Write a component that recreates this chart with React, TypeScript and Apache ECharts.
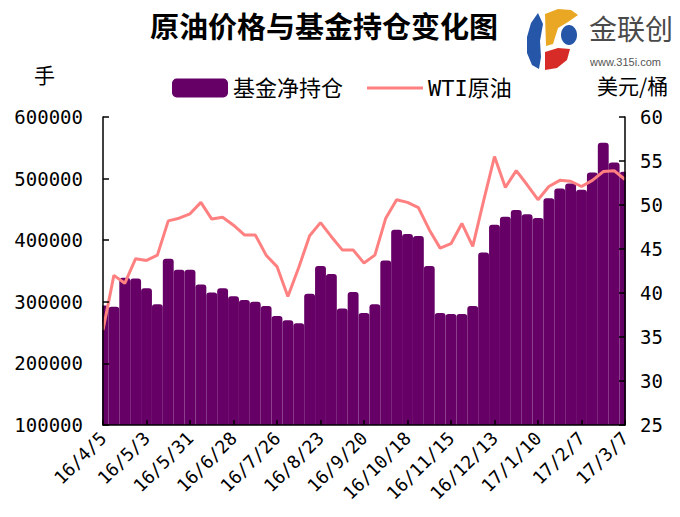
import React, { useEffect, useRef } from "react";
import * as echarts from "echarts";

const dates = [
  "16/4/5", "16/4/12", "16/4/19", "16/4/26", "16/5/3", "16/5/10", "16/5/17", "16/5/24",
  "16/5/31", "16/6/7", "16/6/14", "16/6/21", "16/6/28", "16/7/5", "16/7/12", "16/7/19",
  "16/7/26", "16/8/2", "16/8/9", "16/8/16", "16/8/23", "16/8/30", "16/9/6", "16/9/13",
  "16/9/20", "16/9/27", "16/10/4", "16/10/11", "16/10/18", "16/10/25", "16/11/1", "16/11/8",
  "16/11/15", "16/11/22", "16/11/29", "16/12/6", "16/12/13", "16/12/20", "16/12/27", "17/1/3",
  "17/1/10", "17/1/17", "17/1/24", "17/1/31", "17/2/7", "17/2/14", "17/2/21", "17/2/28",
  "17/3/7",
];

const netPositions = [
  294000, 292000, 339000, 338000, 322000, 296000, 370000, 352000,
  352000, 328000, 315000, 322000, 309000, 303000, 300000, 293000,
  277000, 270000, 265000, 313000, 358000, 345000, 289000, 316000,
  282000, 296000, 367000, 417000, 410000, 407000, 358000, 282000,
  280000, 280000, 293000, 380000, 425000, 438000, 449000, 442000,
  436000, 468000, 484000, 492000, 482000, 510000, 558000, 526000,
  511000,
];

const wtiPrice = [
  35.8, 42.0, 41.1, 43.9, 43.7, 44.3, 48.2, 48.5,
  49.0, 50.3, 48.4, 48.6, 47.7, 46.6, 46.6, 44.3,
  43.0, 39.6, 42.9, 46.5, 48.0, 46.4, 44.9, 44.9,
  43.4, 44.3, 48.5, 50.6, 50.3, 49.7, 47.2, 45.1,
  45.6, 47.9, 45.3, 50.5, 55.5, 52.0, 53.9, 52.3,
  50.6, 52.1, 52.8, 52.7, 52.1, 52.8, 53.8, 53.9,
  52.9,
];

const seriesNames = ["基金净持仓", "WTI原油"];
const titleText = "原油价格与基金持仓变化图";
const leftUnit = "手";
const rightUnit = "美元/桶";

const LATIN = "'DejaVu Sans Mono', 'Noto Sans CJK SC', monospace";
const CJK = "'Noto Sans CJK SC', sans-serif";

const GRID = { left: 103, right: 55, top: 117, bottom: 92 };
const W = 680;
const H = 517;

export default function App() {
  const ref = useRef<HTMLDivElement>(null);

  useEffect(() => {
    document.body.style.margin = "0";
    const chart = echarts.init(ref.current!, null, { renderer: "svg" });
    const plotRight = W - GRID.right;
    const plotBottom = H - GRID.bottom;
    chart.setOption({
      animation: false,
      backgroundColor: "#ffffff",
      title: {
        text: titleText,
        left: 150,
        top: 10,
        padding: 0,
        textStyle: { fontFamily: CJK, fontSize: 29, fontWeight: "bold", color: "#000" },
      },
      legend: {
        left: 172,
        top: 77,
        padding: 0,
        itemWidth: 56,
        itemHeight: 19,
        itemGap: 24,
        textStyle: { fontFamily: LATIN, fontSize: 22, color: "#000" },
        data: [
          { name: seriesNames[0], icon: "roundRect" },
          { name: seriesNames[1], icon: "path://M0,0 H52 V3 H0 Z" },
        ],
      },
      grid: { left: GRID.left, right: GRID.right, top: GRID.top, bottom: GRID.bottom, containLabel: false },
      xAxis: {
        type: "category",
        data: dates,
        boundaryGap: false,
        z: 5,
        axisLine: { lineStyle: { color: "#000", width: 1.5 } },
        axisTick: { inside: true, length: 5, interval: 3, lineStyle: { color: "#000", width: 1.5 } },
        axisLabel: {
          interval: 3,
          rotate: 45,
          margin: 10,
          fontFamily: LATIN,
          fontSize: 18,
          color: "#000",
        },
        splitLine: { show: false },
      },
      yAxis: [
        {
          type: "value",
          min: 100000,
          max: 600000,
          interval: 100000,
          z: 5,
          axisLine: { show: true, lineStyle: { color: "#000", width: 1.5 } },
          axisTick: { show: true, inside: true, length: 6, lineStyle: { color: "#000", width: 1.5 } },
          axisLabel: {
            margin: 20,
            fontFamily: LATIN,
            fontSize: 19,
            color: "#000",
            formatter: (v: number) => String(v),
          },
          splitLine: { show: false },
        },
        {
          type: "value",
          min: 25,
          max: 60,
          interval: 5,
          position: "right",
          z: 5,
          axisLine: { show: true, lineStyle: { color: "#000", width: 1.5 } },
          axisTick: { show: true, inside: true, length: 6, lineStyle: { color: "#000", width: 1.5 } },
          axisLabel: { margin: 15, fontFamily: LATIN, fontSize: 19, color: "#000" },
          splitLine: { show: false },
        },
      ],
      series: [
        {
          name: seriesNames[0],
          type: "bar",
          yAxisIndex: 0,
          data: netPositions,
          barCategoryGap: "0%",
          itemStyle: { color: "#660066", borderRadius: [3, 3, 0, 0] },
        },
        {
          name: seriesNames[1],
          type: "line",
          yAxisIndex: 1,
          data: wtiPrice,
          symbol: "none",
          z: 3,
          lineStyle: { color: "#FF8080", width: 3 },
          itemStyle: { color: "#FF8080" },
        },
      ],
      graphic: [
        // masks hiding the halves of the edge bars that lie outside the plot
        {
          type: "rect",
          z: 4,
          silent: true,
          shape: { x: GRID.left - 9, y: GRID.top - 2, width: 8.2, height: plotBottom - GRID.top + 2 },
          style: { fill: "#ffffff" },
        },
        {
          type: "rect",
          z: 4,
          silent: true,
          shape: { x: plotRight + 0.8, y: GRID.top - 2, width: 8.2, height: plotBottom - GRID.top + 2 },
          style: { fill: "#ffffff" },
        },
        {
          type: "text",
          left: 34,
          top: 63,
          style: { text: leftUnit, font: `21px ${CJK}`, fill: "#000" },
        },
        {
          type: "text",
          left: 597,
          top: 74,
          style: { text: rightUnit, font: `21px ${CJK}`, fill: "#000" },
        },
        // logo
        {
          type: "polygon",
          shape: {
            points: [[538, 13], [531, 23], [527, 37], [527, 53], [532, 65], [539, 69], [541, 57], [540, 41], [543, 24]],
          },
          style: { fill: "#2556A8" },
        },
        {
          type: "polygon",
          shape: {
            points: [[545, 14], [558, 9], [571, 10], [578, 15], [568, 22], [558, 28], [553, 44], [546, 46]],
          },
          style: { fill: "#E9A723" },
        },
        {
          type: "ellipse",
          shape: { cx: 569, cy: 35, rx: 8, ry: 10 },
          style: { fill: "#2556A8" },
        },
        {
          type: "polygon",
          shape: {
            points: [[545, 52], [558, 48], [570, 49], [567, 60], [557, 68], [545, 70]],
          },
          style: { fill: "#D62B26" },
        },
        {
          type: "text",
          left: 589,
          top: 14,
          style: { text: "金联创", font: `28px ${CJK}`, fill: "#4a4a4a" },
        },
        {
          type: "text",
          left: 590,
          top: 56,
          style: { text: "www.315i.com", font: "11px 'Liberation Sans', sans-serif", fill: "#555" },
        },
      ],
    });
    return () => chart.dispose();
  }, []);

  return (
    <div
      ref={ref}
      style={{ position: "fixed", left: 0, top: 0, width: W, height: H, background: "#fff" }}
    />
  );
}
